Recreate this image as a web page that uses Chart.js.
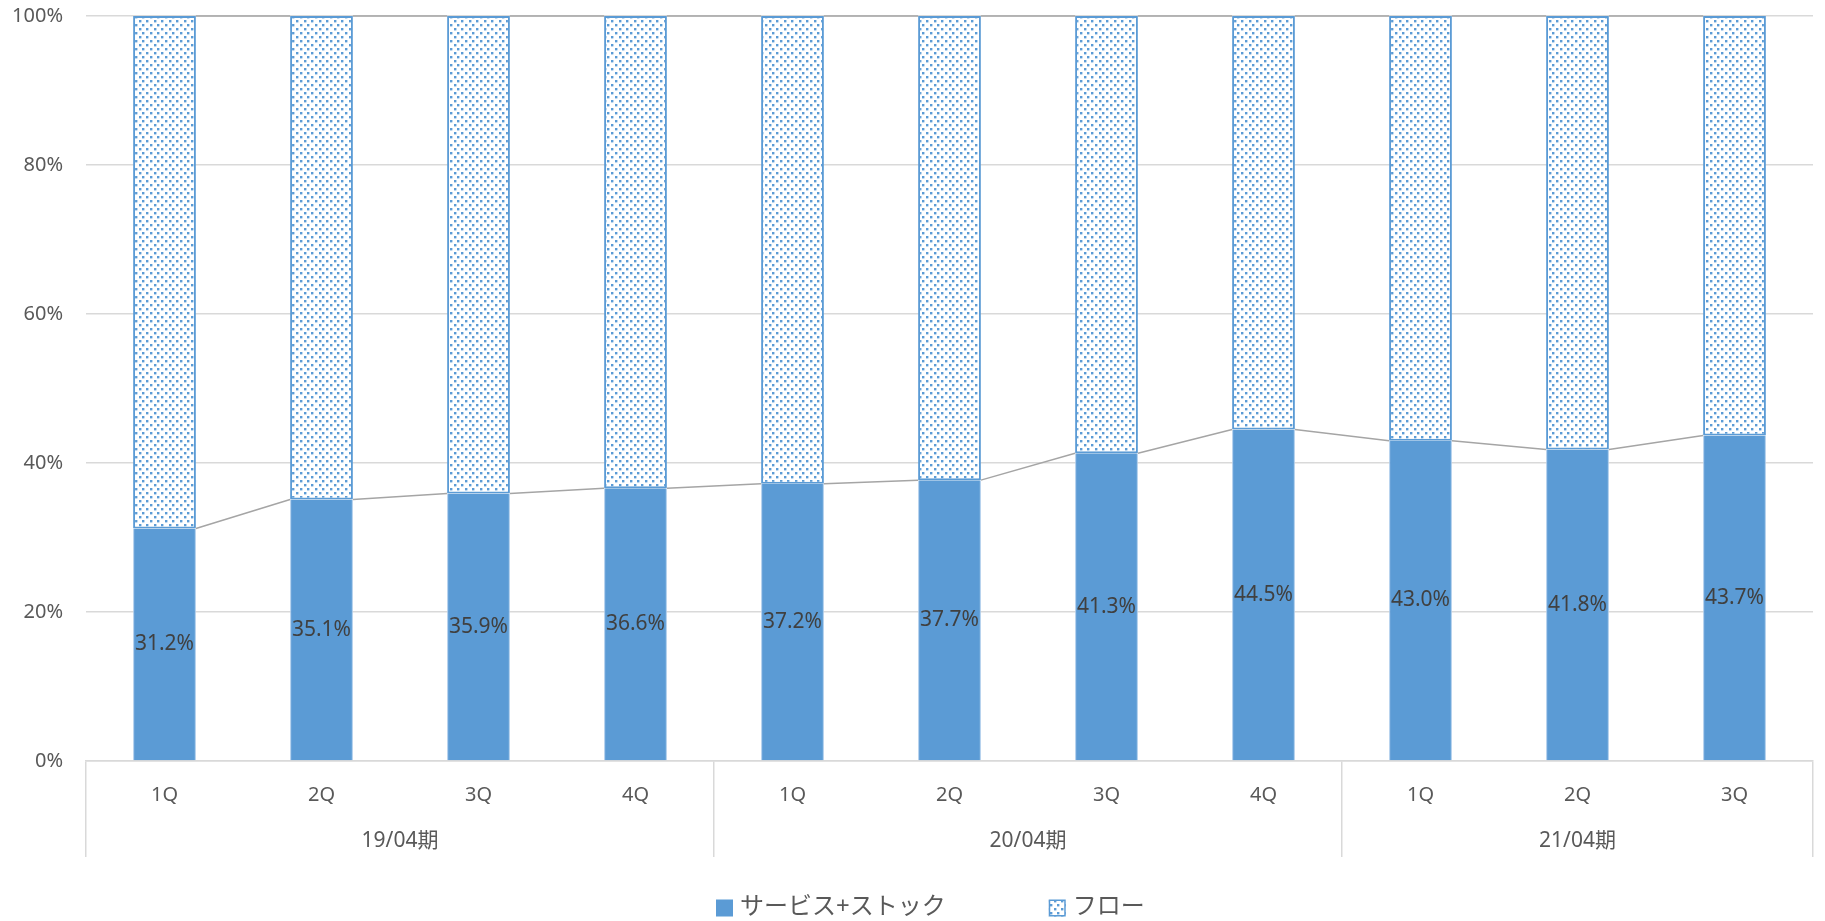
<!DOCTYPE html>
<html lang="ja">
<head>
<meta charset="utf-8">
<title>サービス+ストック / フロー 構成比</title>
<script src="https://cdn.jsdelivr.net/npm/chart.js@4.4.1/dist/chart.umd.min.js"></script>
<style>
  html, body { margin: 0; padding: 0; background: #ffffff; }
  #wrap { width: 1825px; height: 921px; }
</style>
</head>
<body>
<div id="wrap"><canvas id="c" width="1825" height="921"></canvas></div>
<script>
// Quarter labels, fiscal years and the quarter count inside each year
const quarters = ['1Q', '2Q', '3Q', '4Q', '1Q', '2Q', '3Q', '4Q', '1Q', '2Q', '3Q'];
const fiscalYears = ['19/04期', '20/04期', '21/04期'];
const quartersPerYear = [4, 4, 3];

// Share of sales (%)
const serviceStockShare = [31.2, 35.1, 35.9, 36.6, 37.2, 37.7, 41.3, 44.5, 43.0, 41.8, 43.7];
const flowShare = [68.8, 64.9, 64.1, 63.4, 62.8, 62.3, 58.7, 55.5, 57.0, 58.2, 56.3];

const yTickValues = [0, 20, 40, 60, 80, 100];
const seriesNames = ['サービス+ストック', 'フロー'];

const BLUE = '#5B9BD5';
const GRID = '#D9D9D9';
const TEXT = '#595959';
const NONE = 'rgba(0,0,0,0)';
const FONT = "'Noto Sans', 'Noto Sans CJK JP', sans-serif";

Chart.defaults.font.family = FONT;
Chart.defaults.color = TEXT;

// Dotted fill used by the "フロー" bars (staggered rows of small squares)
function makeDotPattern() {
  const tile = document.createElement('canvas');
  tile.width = 15; tile.height = 8;
  const t = tile.getContext('2d');
  t.fillStyle = '#ffffff';
  t.fillRect(0, 0, 15, 8);
  t.fillStyle = BLUE;
  const d = 2.4;
  t.fillRect(0, 0, d, d);
  t.fillRect(7, 0, d, d);
  t.fillRect(4, 4, d, d);
  t.fillRect(11, 4, d, d);
  return document.getElementById('c').getContext('2d').createPattern(tile, 'repeat');
}
const dotPattern = makeDotPattern();

// Fiscal-year axis: edges between years and the centre of each year
const yearTicks = [];
(function () {
  let start = 0;
  yearTicks.push({ value: -0.5, label: '', edge: true });
  quartersPerYear.forEach((n, k) => {
    yearTicks.push({ value: start + (n - 1) / 2, label: fiscalYears[k], edge: false });
    yearTicks.push({ value: start + n - 0.5, label: '', edge: true });
    start += n;
  });
})();

// Lines joining the tops of neighbouring bars in each stack
const seriesLines = {
  id: 'seriesLines',
  afterDatasetsDraw(chart) {
    const ctx = chart.ctx;
    ctx.save();
    ctx.strokeStyle = '#A5A5A5';
    ctx.lineWidth = 1.5;
    chart.data.datasets.forEach((ds, d) => {
      const els = chart.getDatasetMeta(d).data;
      ctx.beginPath();
      for (let i = 0; i < els.length - 1; i++) {
        const a = els[i].getProps(['x', 'y', 'width'], true);
        const b = els[i + 1].getProps(['x', 'y', 'width'], true);
        ctx.moveTo(a.x + a.width / 2, a.y);
        ctx.lineTo(b.x - b.width / 2, b.y);
      }
      ctx.stroke();
    });
    ctx.restore();
  }
};

// Value labels in the middle of the "サービス+ストック" bars
const valueLabels = {
  id: 'valueLabels',
  afterDatasetsDraw(chart) {
    const ctx = chart.ctx;
    const meta = chart.getDatasetMeta(0);
    const values = chart.data.datasets[0].data;
    ctx.save();
    ctx.font = '21px ' + FONT;
    ctx.fillStyle = '#404040';
    ctx.textAlign = 'center';
    ctx.textBaseline = 'middle';
    meta.data.forEach((el, i) => {
      const p = el.getProps(['x', 'y', 'base'], true);
      ctx.fillText(values[i].toFixed(1) + '%', p.x, (p.y + p.base) / 2);
    });
    ctx.restore();
  }
};

// Legend row under the axes
const bottomLegend = {
  id: 'bottomLegend',
  afterDraw(chart) {
    const ctx = chart.ctx;
    const box = 17, gapText = 7, gapItem = 103;
    const cy = 907;
    ctx.save();
    ctx.font = '24px ' + FONT;
    const w0 = ctx.measureText(seriesNames[0]).width;
    const w1 = ctx.measureText(seriesNames[1]).width;
    const total = box + gapText + w0 + gapItem + box + gapText + w1;
    let x = Math.round(chart.width / 2 + 18 - total / 2);
    const by = cy - box / 2 + 1;
    ctx.textBaseline = 'middle';
    ctx.textAlign = 'left';
    // solid swatch
    ctx.fillStyle = BLUE;
    ctx.fillRect(x, by, box, box);
    ctx.fillStyle = TEXT;
    ctx.fillText(seriesNames[0], x + box + gapText, cy);
    x += box + gapText + w0 + gapItem;
    // dotted swatch
    ctx.fillStyle = dotPattern;
    ctx.fillRect(x, by, box, box);
    ctx.strokeStyle = BLUE;
    ctx.lineWidth = 1.5;
    ctx.strokeRect(x + 0.75, by + 0.75, box - 1.5, box - 1.5);
    ctx.fillStyle = TEXT;
    ctx.fillText(seriesNames[1], x + box + gapText, cy);
    ctx.restore();
  }
};

new Chart(document.getElementById('c'), {
  type: 'bar',
  data: {
    labels: quarters,
    datasets: [
      {
        label: seriesNames[0],
        data: serviceStockShare,
        backgroundColor: BLUE,
        borderColor: '#A8C9EA',
        borderWidth: { left: 1, right: 1, top: 0, bottom: 0 },
        borderSkipped: false,
        barPercentage: 0.4,
        categoryPercentage: 1.0
      },
      {
        label: seriesNames[1],
        data: flowShare,
        backgroundColor: dotPattern,
        borderColor: BLUE,
        borderWidth: 2,
        borderSkipped: false,
        barPercentage: 0.4,
        categoryPercentage: 1.0
      }
    ]
  },
  options: {
    responsive: false,
    animation: false,
    devicePixelRatio: 1,
    layout: { padding: { left: 0, right: 12, top: 16, bottom: 64 } },
    plugins: {
      legend: { display: false },
      tooltip: { enabled: false }
    },
    scales: {
      x: {
        stacked: true,
        offset: true,
        weight: 0,
        afterFit: s => { s.height = 58; },
        grid: {
          offset: true,
          drawOnChartArea: false,
          drawTicks: true,
          tickLength: 58,
          lineWidth: 1.5,
          color: c => (c.index === undefined || c.index % 4 === 0) ? GRID : NONE
        },
        border: { display: true, color: GRID, width: 1.5 },
        ticks: {
          font: { size: 20 },
          color: TEXT,
          padding: -36,
          maxRotation: 0,
          autoSkip: false
        }
      },
      years: {
        type: 'linear',
        position: 'bottom',
        weight: 1,
        offset: false,
        min: -0.5,
        max: quarters.length - 0.5,
        afterFit: s => { s.height = 38; },
        afterBuildTicks: s => { s.ticks = yearTicks.map(t => ({ value: t.value })); },
        grid: {
          offset: false,
          drawOnChartArea: false,
          drawTicks: true,
          tickLength: 38,
          lineWidth: 1.5,
          color: c => {
            const t = c.tick ? yearTicks.find(y => y.value === c.tick.value) : null;
            return (!t || t.edge) ? GRID : NONE;
          }
        },
        border: { display: false },
        ticks: {
          font: { size: 21 },
          color: TEXT,
          padding: -29,
          maxRotation: 0,
          autoSkip: false,
          callback: v => {
            const t = yearTicks.find(y => y.value === v);
            return t ? t.label : '';
          }
        }
      },
      y: {
        stacked: true,
        min: 0,
        max: 100,
        afterFit: s => { s.width = 86; },
        afterBuildTicks: s => { s.ticks = yTickValues.map(v => ({ value: v })); },
        grid: { color: GRID, lineWidth: 1.5, drawTicks: true, tickLength: 23, tickColor: NONE },
        border: { display: false },
        ticks: {
          font: { size: 20 },
          color: TEXT,
          padding: 0,
          callback: v => v + '%'
        }
      }
    }
  },
  plugins: [seriesLines, valueLabels, bottomLegend]
});
</script>
</body>
</html>
